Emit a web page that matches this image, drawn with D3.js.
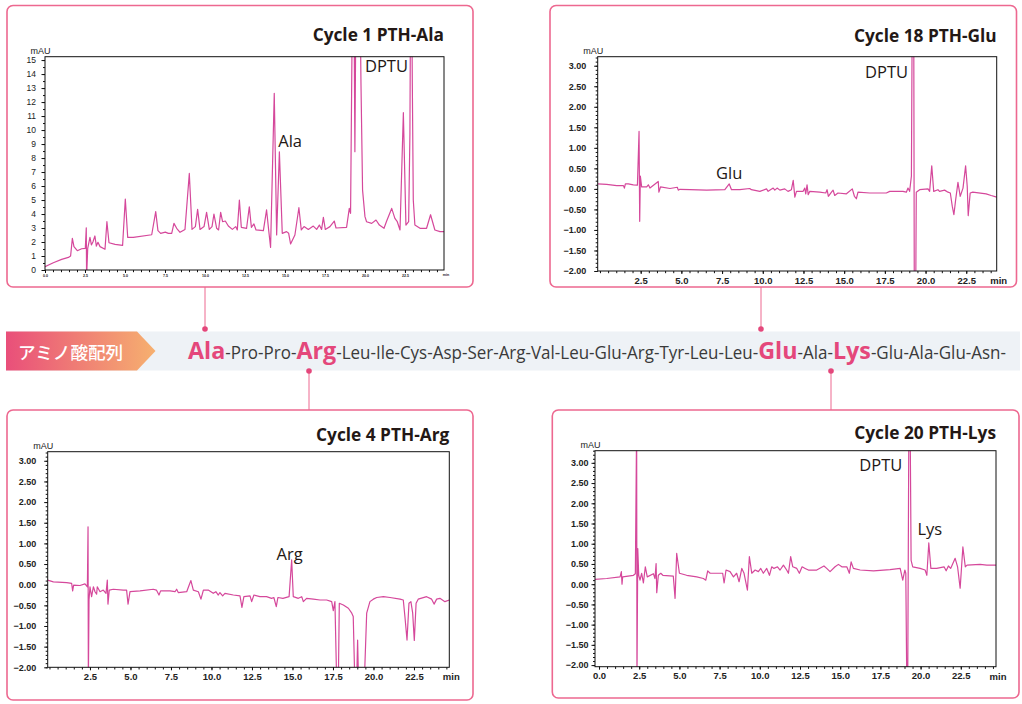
<!DOCTYPE html>
<html>
<head>
<meta charset="utf-8">
<script src="https://cdn.jsdelivr.net/npm/d3@7"></script>
<style>
  body { margin: 0; background: #fff; }
  svg { display: block; }
</style>
</head>
<body>
<script>
// ---------------------------------------------------------------------------
// Data: chromatogram traces, [time (min), absorbance (mAU)]
// ---------------------------------------------------------------------------
const cycle1Trace = [
  [0,0.24],[0.52,0.52],[1.04,0.76],[1.46,0.9],[1.6,1.0],[1.71,2.26],[1.81,1.67],[2.02,1.38],[2.29,1.52],
  [2.52,1.55],[2.58,3.02],[2.6,-0.5],[2.67,1.55],[2.81,2.33],[2.9,1.79],[3.0,2.02],[3.12,2.43],[3.21,1.71],
  [3.31,1.98],[3.44,1.67],[3.75,1.48],[3.87,3.45],[4.0,1.95],[4.38,1.83],[4.85,1.76],[5.02,5.07],[5.17,2.33],
  [5.52,2.33],[6.67,2.52],[6.92,4.17],[7.06,2.81],[7.23,2.62],[7.52,2.71],[7.71,2.62],[7.92,2.62],[8.06,3.33],
  [8.23,2.98],[8.44,2.69],[8.75,2.9],[9.02,6.9],[9.19,2.9],[9.4,3.1],[9.54,4.33],[9.69,2.9],[9.94,3.1],
  [10.1,4.12],[10.27,2.9],[10.44,3.1],[10.56,4.0],[10.73,2.98],[10.85,2.86],[10.98,4.12],[11.1,3.45],
  [11.27,3.5],[11.46,3.14],[11.71,2.9],[11.92,3.1],[12.02,2.86],[12.15,5.0],[12.27,3.05],[12.6,2.98],
  [12.77,4.52],[12.9,3.05],[13.06,3.29],[13.19,2.86],[13.65,2.81],[13.85,4.29],[13.98,2.86],[14.1,1.62],
  [14.33,12.62],[14.48,2.5],[14.65,8.45],[14.83,2.62],[15.1,2.74],[15.23,2.62],[15.35,1.86],[15.62,2.5],
  [15.87,4.45],[16.02,2.86],[16.19,3.1],[16.46,2.9],[16.77,3.14],[16.98,2.9],[17.15,3.21],[17.29,2.9],
  [17.4,3.76],[17.52,2.9],[17.81,3.1],[18.08,3.5],[18.19,3.0],[18.85,3.05],[19.02,4.4],[19.1,4.05],
  [19.19,16],[19.31,20],[19.37,8.45],[19.44,20],[19.69,20],[19.75,13.36],[19.85,5.71],[20.0,3.81],
  [20.1,3.45],[20.42,3.33],[20.69,3.57],[20.9,3.21],[21.19,2.98],[21.35,3.48],[21.67,4.4],[21.87,3.69],
  [22.02,3.45],[22.19,2.86],[22.4,11.24],[22.56,3.21],[22.73,3.45],[22.81,9.76],[22.85,20],[22.92,20],
  [22.96,13.3],[23.02,5],[23.12,3.21],[23.44,2.98],[23.85,2.98],[24.1,3.95],[24.37,2.86],[24.69,2.74],
  [24.96,2.74]
];

const cycle18Trace = [
  [-0.14,0.12],[0.41,0.11],[1.03,0.08],[1.44,0.08],[1.5,0.02],[1.56,0.12],[1.74,0.12],[2.05,0.1],[2.3,0.09],
  [2.4,1.4],[2.44,-0.79],[2.48,0.31],[2.56,0.05],[2.87,0.05],[2.97,0.1],[3.07,0.02],[3.58,0.18],[3.62,-0.08],
  [3.72,0.05],[4.3,0.01],[4.75,0.04],[4.81,-0.03],[4.91,-0.01],[5.53,-0.02],[6.55,-0.03],[7.67,-0.02],
  [7.94,0.12],[8.08,-0.02],[8.59,-0.02],[9.2,0.01],[9.3,-0.02],[9.82,-0.06],[10.23,0],[10.33,-0.06],
  [10.64,0.02],[10.74,-0.03],[10.88,0.02],[11.05,-0.03],[11.35,0],[11.55,-0.06],[11.76,-0.02],[11.87,0.21],
  [11.97,-0.2],[12.07,-0.06],[12.48,-0.06],[12.58,0.02],[12.64,-0.12],[12.72,0.1],[12.79,-0.14],[12.89,-0.06],
  [13.5,-0.08],[13.87,-0.1],[13.95,-0.02],[14.03,-0.18],[14.22,-0.08],[14.32,-0.03],[14.42,-0.16],[14.62,-0.1],
  [15.14,-0.12],[15.5,0],[15.63,-0.18],[15.75,-0.24],[15.85,-0.08],[16.57,-0.1],[17.59,-0.1],[17.8,-0.06],
  [18.61,-0.06],[18.82,-0.08],[18.92,0.02],[19.02,-0.06],[19.13,0.31],[19.19,5],[19.27,5],[19.31,-3],
  [19.39,-3],[19.43,-0.08],[19.64,-0.02],[20.15,0],[20.25,-0.06],[20.38,0.56],[20.5,-0.06],[20.76,-0.02],
  [20.86,-0.06],[21.17,-0.03],[21.38,-0.08],[21.52,-0.1],[21.64,-0.42],[21.74,-0.63],[21.85,-0.26],
  [21.99,0.16],[22.13,-0.18],[22.3,0.02],[22.46,0.56],[22.56,0.06],[22.62,-0.65],[22.74,-0.1],[22.9,-0.08],
  [23.72,-0.12],[24.03,-0.16],[24.37,-0.2]
];

const cycle4Trace = [
  [-0.11,0.11],[0.24,0.07],[1.06,0.05],[1.37,0.03],[1.43,-0.15],[1.49,-0.01],[1.88,-0.02],[2.19,0.02],
  [2.34,-0.05],[2.38,1.4],[2.4,-2.4],[2.44,-0.37],[2.5,-0.05],[2.6,-0.29],[2.71,-0.05],[2.81,-0.17],
  [2.91,-0.23],[2.95,-0.05],[3.12,-0.17],[3.32,-0.13],[3.49,-0.21],[3.57,0.11],[3.61,-0.47],[3.69,-0.13],
  [3.94,-0.11],[4.56,-0.13],[4.76,-0.13],[4.85,-0.47],[4.97,-0.17],[5.59,-0.15],[6.41,-0.11],[6.6,-0.13],
  [6.76,-0.25],[6.86,-0.15],[7.44,-0.15],[7.75,-0.17],[7.85,-0.11],[7.95,-0.19],[8.47,-0.17],[8.63,0.0],
  [8.73,0.1],[8.88,-0.13],[9.19,-0.17],[9.35,-0.35],[9.5,-0.13],[9.8,-0.13],[10.11,-0.21],[10.27,-0.17],
  [10.42,-0.25],[10.52,-0.19],[10.69,-0.27],[10.83,-0.21],[11.35,-0.25],[11.76,-0.27],[11.88,-0.55],
  [12.0,-0.29],[12.38,-0.27],[12.48,-0.41],[12.62,-0.25],[12.99,-0.29],[13.4,-0.29],[13.71,-0.33],
  [13.85,-0.31],[14.0,-0.53],[14.1,-0.31],[14.41,-0.33],[14.79,-0.29],[14.95,0.6],[15.05,-0.29],
  [15.36,-0.33],[15.57,-0.29],[15.67,-0.41],[15.87,-0.33],[16.29,-0.35],[16.7,-0.37],[17.11,-0.37],
  [17.42,-0.41],[17.52,-0.63],[17.62,-0.41],[17.73,-2.4],[17.83,-2.4],[17.89,-0.45],[18.14,-0.49],
  [18.45,-0.57],[18.66,-0.69],[18.75,-0.77],[18.85,-2.4],[18.96,-2.4],[19.02,-1.34],[19.08,-2.4],
  [19.43,-2.4],[19.58,-0.69],[19.78,-0.41],[19.99,-0.35],[20.2,-0.31],[20.61,-0.29],[21.02,-0.31],
  [21.64,-0.35],[21.84,-0.37],[21.94,-0.77],[22.07,-1.34],[22.19,-0.45],[22.31,-0.41],[22.42,-0.69],
  [22.52,-1.35],[22.63,-0.45],[22.76,-0.35],[23.28,-0.29],[23.59,-0.35],[23.74,-0.47],[23.9,-0.35],
  [24.1,-0.33],[24.41,-0.41],[24.68,-0.37]
];

const cycle20Trace = [
  [-0.25,0.12],[0.48,0.14],[1.31,0.18],[1.39,0.31],[1.43,0.0],[1.47,0.18],[2.14,0.22],[2.26,0.26],
  [2.34,4],[2.36,-2.4],[2.41,0.88],[2.47,0.22],[2.55,0.1],[2.65,0.27],[2.76,0.03],[2.88,0.43],[3.0,0.18],
  [3.38,0.26],[3.48,0.14],[3.55,0.51],[3.59,-0.21],[3.69,0.22],[3.84,0.27],[3.97,0.22],[4.62,0.2],
  [4.73,-0.35],[4.83,0.76],[5.0,0.27],[5.45,0.22],[6.08,0.18],[6.49,0.14],[6.64,0.1],[6.76,0.33],
  [6.91,0.27],[7.53,0.27],[7.69,0.27],[7.78,0.03],[7.9,0.35],[8.15,0.31],[8.36,0.18],[8.56,0.27],
  [8.71,0.06],[8.88,0.39],[9.02,0.27],[9.23,-0.15],[9.35,0.68],[9.5,0.27],[9.71,0.35],[9.91,0.31],
  [10.06,0.39],[10.22,0.27],[10.43,0.39],[10.6,0.22],[10.74,0.43],[10.88,0.39],[11.1,0.43],[11.26,0.35],
  [11.47,0.47],[11.67,0.35],[11.78,0.27],[11.92,0.68],[12.05,0.43],[12.3,0.39],[12.46,0.27],[12.63,0.43],
  [12.82,0.39],[13.02,0.35],[13.54,0.35],[13.99,0.45],[14.16,0.39],[14.37,0.31],[14.68,0.43],[14.89,0.49],
  [15.1,0.43],[15.41,0.43],[15.57,0.27],[15.68,0.55],[15.82,0.39],[16.24,0.35],[17.07,0.33],[18.1,0.36],
  [18.73,0.39],[18.89,0.1],[19.02,0.35],[19.08,0.27],[19.14,-2.4],[19.2,-2.4],[19.27,4],[19.35,4],
  [19.41,0.59],[19.51,0.43],[19.97,0.39],[20.28,0.35],[20.39,0.22],[20.51,1.02],[20.64,0.39],[21.0,0.39],
  [21.46,0.43],[21.59,0.33],[21.73,0.45],[21.87,0.39],[22.15,0.64],[22.3,0.43],[22.46,-0.1],[22.63,0.92],
  [22.78,0.43],[22.89,0.47],[23.7,0.49],[24.12,0.47],[24.74,0.47]
];

// peak labels: [text, time, mAU]
const cycle1Labels = [["Ala", 14.58, 8.8], ["DPTU", 20.0, 14.16]];
const cycle18Labels = [["DPTU", 16.28, 2.69], ["Glu", 7.13, 0.23]];
const cycle4Labels = [["Arg", 14.02, 0.61]];
const cycle20Labels = [["DPTU", 16.19, 2.8], ["Lys", 19.8, 1.21]];

// tick values
const timeTicks = [2.5, 5, 7.5, 10, 12.5, 15, 17.5, 20, 22.5];
const timeTicksFromZero = [0, 2.5, 5, 7.5, 10, 12.5, 15, 17.5, 20, 22.5];
const mAUTicksWide = d3.range(0, 16);              // 0 .. 15
const mAUTicksNarrow = [-2, -1.5, -1, -0.5, 0, 0.5, 1, 1.5, 2, 2.5, 3];

// amino acid sequence and the cycles shown
const sequence = ["Ala","Pro","Pro","Arg","Leu","Ile","Cys","Asp","Ser","Arg","Val","Leu",
                  "Glu","Arg","Tyr","Leu","Leu","Glu","Ala","Lys","Glu","Ala","Glu","Asn"];
const shownCycles = [1, 4, 18, 20];
const bannerLabel = "アミノ酸配列";

// ---------------------------------------------------------------------------
// Layout
// ---------------------------------------------------------------------------
const TRACE = "#d5489b", BORDER = "#ed6890", ACCENT = "#e4477b", INK = "#231815";

const panels = [
  { title: "Cycle 1 PTH-Ala", data: cycle1Trace, labels: cycle1Labels,
    box: [7, 5.5, 466, 281.5], plot: [45, 56.7, 399, 213.3], titleY: 40.8,
    xDomain: [0, 24.94], yDomain: [0, 15.24], xTicks: timeTicksFromZero, xFont: 3.6,
    yTicks: mAUTicksWide, yMinor: 0.5, yFmt: d3.format("d"), yFont: 8.5, yPad: 5.5, yWeight: "normal",
    link: 205, top: true },
  { title: "Cycle 18 PTH-Glu", data: cycle18Trace, labels: cycle18Labels,
    box: [550, 5.5, 466.5, 281.5], plot: [597.7, 56.7, 399, 214.3], titleY: 41.6,
    xDomain: [-0.14, 24.37], yDomain: [-2.0, 3.22], xTicks: timeTicks, xFont: 9.5,
    yTicks: mAUTicksNarrow, yMinor: 0.1, yFmt: d3.format(".2f"), yFont: 9, yPad: 8, yWeight: "bold",
    link: 761, top: true },
  { title: "Cycle 4 PTH-Arg", data: cycle4Trace, labels: cycle4Labels,
    box: [7, 410, 466, 290], plot: [47.7, 451.7, 401.6, 215.6], titleY: 440.6,
    xDomain: [-0.11, 24.68], yDomain: [-2.0, 3.22], xTicks: timeTicks, xFont: 9.5,
    yTicks: mAUTicksNarrow, yMinor: 0.1, yFmt: d3.format(".2f"), yFont: 9, yPad: 8, yWeight: "bold",
    link: 309, top: false },
  { title: "Cycle 20 PTH-Lys", data: cycle20Trace, labels: cycle20Labels,
    box: [552.3, 410, 466.7, 288], plot: [595, 450.7, 401, 216], titleY: 439,
    xDomain: [-0.25, 24.69], yDomain: [-2.04, 3.30], xTicks: timeTicksFromZero, xFont: 9.5,
    yTicks: mAUTicksNarrow, yMinor: 0.1, yFmt: d3.format(".2f"), yFont: 9, yPad: 3, yWeight: "bold",
    link: 831, top: false }
];

const band = { x: 6, y: 331.5, w: 1014, h: 39 };

const svg = d3.select("body").append("svg")
    .attr("width", 1022)
    .attr("height", 704)
    .style("font-family", "'Open Sans', 'Noto Sans', sans-serif");
const defs = svg.append("defs");

// ---------------------------------------------------------------------------
// Panels
// ---------------------------------------------------------------------------
function snap(v) { return Math.round(v * 1000) / 1000; }

panels.forEach(function(p, i) {
    var g = svg.append("g").attr("class", "panel");
    var px = p.plot[0], py = p.plot[1], pw = p.plot[2], ph = p.plot[3];

    g.append("rect")
        .attr("x", p.box[0]).attr("y", p.box[1])
        .attr("width", p.box[2]).attr("height", p.box[3])
        .attr("rx", 6)
        .attr("fill", "#fff")
        .attr("stroke", BORDER)
        .attr("stroke-width", 1.6);

    g.append("text")
        .attr("x", px + pw).attr("y", p.titleY)
        .attr("text-anchor", "end")
        .attr("font-size", 17.3).attr("font-weight", 700)
        .attr("fill", INK)
        .text(p.title);

    var x = d3.scaleLinear().domain(p.xDomain).range([px, px + pw]);
    var y = d3.scaleLinear().domain(p.yDomain).range([py + ph, py]);

    defs.append("clipPath").attr("id", "clip" + i)
      .append("rect").attr("x", px).attr("y", py).attr("width", pw).attr("height", ph);

    // trace
    g.append("path")
        .datum(p.data)
        .attr("clip-path", "url(#clip" + i + ")")
        .attr("fill", "none")
        .attr("stroke", TRACE)
        .attr("stroke-width", 1.2)
        .attr("stroke-linejoin", "round")
        .attr("d", d3.line().x(function(d) { return x(d[0]); }).y(function(d) { return y(d[1]); }));

    // frame
    g.append("rect")
        .attr("x", px).attr("y", py).attr("width", pw).attr("height", ph)
        .attr("fill", "none").attr("stroke", "#111").attr("stroke-width", 1);

    // y axis: minor then major
    var yMinorVals = d3.range(Math.ceil(p.yDomain[0] / p.yMinor - 1e-6), Math.floor(p.yDomain[1] / p.yMinor + 1e-6) + 1)
        .map(function(k) { return snap(k * p.yMinor); });
    g.append("g")
        .attr("transform", "translate(" + px + ",0)")
        .call(d3.axisLeft(y).tickValues(yMinorVals).tickSize(2).tickFormat(""))
        .call(function(a) { a.select(".domain").remove(); a.selectAll("line").attr("stroke", "#111"); });
    var yAxis = g.append("g")
        .attr("transform", "translate(" + px + ",0)")
        .call(d3.axisLeft(y).tickValues(p.yTicks).tickSize(3.5).tickPadding(p.yPad).tickFormat(p.yFmt));
    yAxis.select(".domain").remove();
    yAxis.selectAll("line").attr("stroke", "#111");
    yAxis.attr("font-family", "'Liberation Sans', Arial, sans-serif").attr("font-size", p.yFont);
    yAxis.selectAll("text").attr("fill", "#222").attr("font-weight", p.yWeight);

    // x axis: minor every 0.5 min, then labelled ticks
    var xMinorVals = d3.range(Math.ceil(p.xDomain[0] * 2), Math.floor(p.xDomain[1] * 2) + 1)
        .map(function(k) { return k / 2; });
    g.append("g")
        .attr("transform", "translate(0," + (py + ph) + ")")
        .call(d3.axisBottom(x).tickValues(xMinorVals).tickSize(2.2).tickFormat(""))
        .call(function(a) { a.select(".domain").remove(); a.selectAll("line").attr("stroke", "#111"); });
    var xAxis = g.append("g")
        .attr("transform", "translate(0," + (py + ph) + ")")
        .call(d3.axisBottom(x).tickValues(p.xTicks).tickSize(3).tickPadding(p.xFont > 5 ? 3 : 1.5)
            .tickFormat(d3.format(".1f")));
    xAxis.select(".domain").remove();
    xAxis.selectAll("line").attr("stroke", "#111");
    xAxis.attr("font-family", "'Liberation Sans', Arial, sans-serif").attr("font-size", p.xFont);
    xAxis.selectAll("text").attr("fill", "#222").attr("font-weight", "bold");

    // unit labels
    g.append("text")
        .attr("x", px + pw + 2).attr("y", py + ph + (p.xFont > 5 ? 13 : 6.2))
        .attr("text-anchor", "middle")
        .attr("font-family", "'Liberation Sans', Arial, sans-serif")
        .attr("font-size", p.xFont).attr("font-weight", "bold").attr("fill", "#222")
        .text("min");
    g.append("text")
        .attr("x", px + 5.5).attr("y", py - 2.5)
        .attr("text-anchor", "end")
        .attr("font-family", "'Liberation Sans', Arial, sans-serif")
        .attr("font-size", 9).attr("fill", "#222")
        .text("mAU");

    // peak labels
    g.selectAll("text.peak")
        .data(p.labels)
      .enter().append("text")
        .attr("class", "peak")
        .attr("x", function(d) { return x(d[1]); })
        .attr("y", function(d) { return y(d[2]); })
        .attr("font-size", 16.5)
        .attr("fill", INK)
        .text(function(d) { return d[0]; });
});

// ---------------------------------------------------------------------------
// Sequence band
// ---------------------------------------------------------------------------
var grad = defs.append("linearGradient").attr("id", "bannerGrad")
    .attr("x1", "0%").attr("x2", "100%").attr("y1", "0%").attr("y2", "0%");
grad.append("stop").attr("offset", "0%").attr("stop-color", "#e94f7a");
grad.append("stop").attr("offset", "100%").attr("stop-color", "#f6b06f");

svg.append("rect")
    .attr("x", band.x).attr("y", band.y).attr("width", band.w).attr("height", band.h)
    .attr("fill", "#eef2f6");

var bx0 = band.x, bx1 = 137, btip = 155.5, by0 = band.y, by1 = band.y + band.h;
svg.append("path")
    .attr("d", d3.line()([[bx0, by0], [bx1, by0], [btip, (by0 + by1) / 2], [bx1, by1], [bx0, by1]]) + "Z")
    .attr("fill", "url(#bannerGrad)");
svg.append("text")
    .attr("x", 18).attr("y", 358.5)
    .attr("font-family", "'Noto Sans CJK JP', sans-serif")
    .attr("font-size", 17.6).attr("font-weight", 500)
    .attr("fill", "#fff")
    .text(bannerLabel);

var seqText = svg.append("text")
    .attr("x", 188).attr("y", 359)
    .attr("fill", "#3a3a3a");
sequence.forEach(function(res, i) {
    var hl = shownCycles.indexOf(i + 1) >= 0;
    seqText.append("tspan")
        .attr("font-size", hl ? 24 : 17.5)
        .attr("font-weight", hl ? 700 : 400)
        .attr("fill", hl ? ACCENT : "#3a3a3a")
        .text(res);
    seqText.append("tspan")
        .attr("font-size", 17.5)
        .text("-");
});
// squeeze the line to the span it takes in the picture (condensed face)
seqText.attr("textLength", 818).attr("lengthAdjust", "spacingAndGlyphs");

// connectors from the shown residues to their chromatograms
panels.forEach(function(p) {
    var yBox = p.top ? p.box[1] + p.box[3] : p.box[1];
    var yDot = p.top ? band.y - 2.5 : band.y + band.h + 0.5;
    svg.append("line")
        .attr("x1", p.link).attr("x2", p.link)
        .attr("y1", yBox).attr("y2", yDot)
        .attr("stroke", BORDER).attr("stroke-width", 1);
    svg.append("circle")
        .attr("cx", p.link).attr("cy", yDot).attr("r", 2.8)
        .attr("fill", ACCENT);
});
</script>
</body>
</html>
